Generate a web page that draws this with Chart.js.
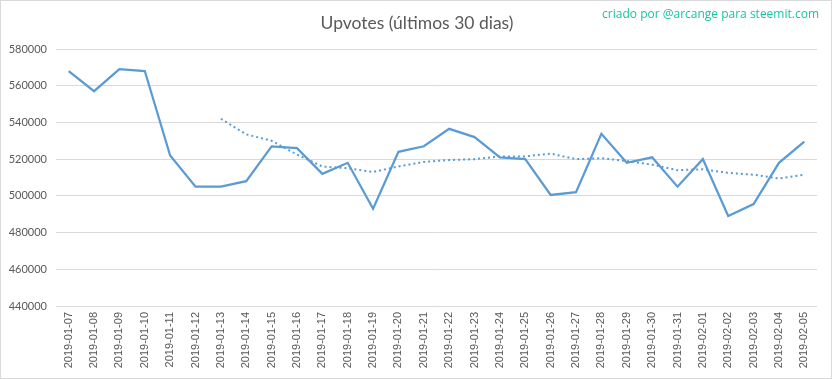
<!DOCTYPE html>
<html>
<head>
<meta charset="utf-8">
<script src="https://cdn.jsdelivr.net/npm/chart.js@4"></script>
<style>
html,body{margin:0;padding:0;background:#fff;}
#wrap{position:relative;width:832px;height:379px;}
canvas{display:block;}
</style>
</head>
<body>
<div id="wrap"><canvas id="c" width="832" height="379"></canvas></div>
<script>
const categories = ["2019-01-07","2019-01-08","2019-01-09","2019-01-10","2019-01-11","2019-01-12","2019-01-13","2019-01-14","2019-01-15","2019-01-16","2019-01-17","2019-01-18","2019-01-19","2019-01-20","2019-01-21","2019-01-22","2019-01-23","2019-01-24","2019-01-25","2019-01-26","2019-01-27","2019-01-28","2019-01-29","2019-01-30","2019-01-31","2019-02-01","2019-02-02","2019-02-03","2019-02-04","2019-02-05"];
const upvotes = [568000,557000,569000,568000,522000,505000,505000,508000,527000,526000,512000,518000,493000,524000,527000,536500,532000,521000,520000,500500,502000,533800,518000,521000,505000,520000,489000,495500,518000,529500];
const trend = [null,null,null,null,null,null,542000,533500,530000,522500,516000,515000,513000,516000,518500,519500,520000,521500,521500,523000,520000,520500,519000,517000,514000,514500,512500,511500,509500,511500];
const yTicks = [440000,460000,480000,500000,520000,540000,560000,580000];
const titleText = "Upvotes (últimos 30 dias)";
const creditText = "criado por @arcange para steemit.com";

const overlay = {
  id: 'overlay',
  afterDraw(chart) {
    const ctx = chart.ctx;
    ctx.save();
    ctx.strokeStyle = '#d9d9d9';
    ctx.lineWidth = 1;
    ctx.strokeRect(0.5, 0.5, 831, 378);
    ctx.fillStyle = '#595959';
    ctx.font = '17.5px Lato, "Open Sans", sans-serif';
    ctx.textAlign = 'center';
    ctx.textBaseline = 'middle';
    ctx.fillText(titleText, 417, 23);
    ctx.fillStyle = '#17c3a2';
    ctx.font = '12px "Open Sans", Lato, sans-serif';
    ctx.textAlign = 'left';
    const w = ctx.measureText(creditText).width;
    ctx.fillText(creditText, 819 - w, 15);
    ctx.restore();
  }
};

new Chart(document.getElementById('c'), {
  type: 'line',
  data: {
    labels: categories,
    datasets: [
      {
        data: upvotes,
        borderColor: '#5b9bd5',
        borderWidth: 2.25,
        pointRadius: 0,
        tension: 0,
        fill: false
      },
      {
        data: trend,
        borderColor: '#5b9bd5',
        borderWidth: 2,
        borderDash: [2, 3],
        pointRadius: 0,
        tension: 0,
        fill: false,
        spanGaps: false
      }
    ]
  },
  options: {
    responsive: false,
    animation: false,
    layout: { padding: { top: 49, right: 15, left: 0, bottom: 0 } },
    plugins: { legend: { display: false }, title: { display: false }, tooltip: { enabled: false } },
    scales: {
      x: {
        offset: true,
        grid: { display: false, drawTicks: false },
        border: { display: false },
        ticks: {
          color: '#595959',
          font: { size: 11, family: '"Liberation Sans", Arial, sans-serif' },
          minRotation: 90,
          maxRotation: 90,
          autoSkip: false,
          padding: 6
        },
        afterFit(s) { s.height = 73; }
      },
      y: {
        min: 440000,
        max: 580000,
        afterBuildTicks(s) { s.ticks = yTicks.map(v => ({ value: v })); },
        grid: { color: '#d9d9d9', lineWidth: 1, drawTicks: false },
        border: { display: false },
        ticks: {
          color: '#595959',
          font: { size: 11, family: 'Lato, "Open Sans", sans-serif' },
          padding: 9,
          callback: v => String(v)
        },
        afterFit(s) { s.width = 56; }
      }
    }
  },
  plugins: [overlay]
});
</script>
</body>
</html>
